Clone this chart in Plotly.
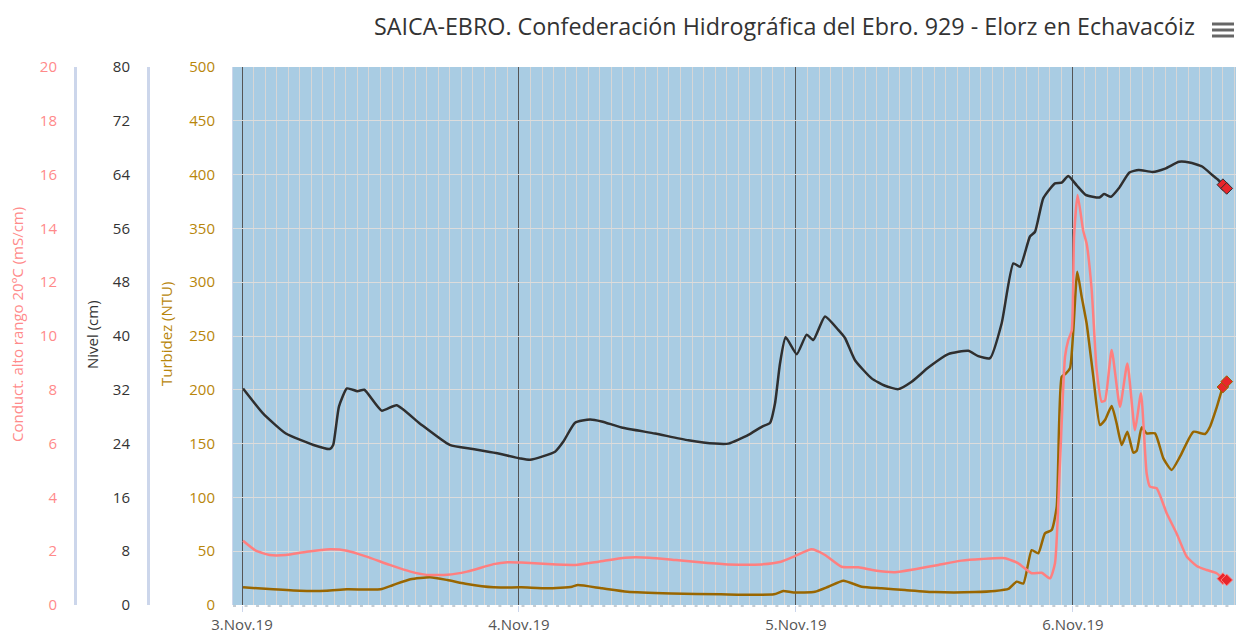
import pandas as pd
import plotly.graph_objects as go

BASE = pd.Timestamp("2019-11-03 00:00")

# ---- Nivel (cm) ----
nivel_h = [0.09, 1.82, 3.8, 6.2, 7.6, 7.9, 8.4, 9.1, 10.0, 10.6, 12.1, 13.4, 15.4, 18.0, 20.0, 22.0,
           24.09, 24.96, 27.13, 27.85, 28.86, 30.16, 31.17, 32.9, 35.79, 38.68, 40.99, 42.15, 43.88,
           45.03, 45.76, 46.19, 46.62, 47.11, 48.07, 48.93, 49.51, 50.52, 51.67, 52.25, 53.12, 54.56,
           55.72, 56.87, 58.03, 59.47, 61.2, 62.94, 63.8, 64.82, 65.83, 66.84, 67.42, 68.28, 68.72,
           69.44, 70.45, 71.03, 71.6, 72.33, 73.1, 74.3, 74.7, 75.3, 76.0, 76.9, 77.7, 78.9, 80.0,
           81.2, 82.1, 83.2, 84.1, 84.6, 85.0, 85.33]
nivel_v = [32.2, 28.5, 25.5, 23.8, 23.2, 23.8, 29.5, 32.2, 31.8, 32.0, 28.9, 29.7, 27.0, 23.8, 23.2, 22.6,
           21.8, 21.6, 22.8, 24.3, 27.1, 27.6, 27.3, 26.4, 25.5, 24.5, 24.0, 24.0, 25.3,
           26.5, 27.1, 30.0, 35.9, 39.8, 37.3, 40.2, 39.4, 42.9, 40.9, 39.7, 36.4, 33.7,
           32.6, 32.1, 33.2, 35.3, 37.3, 37.8, 37.0, 36.7, 41.9, 50.8, 50.3, 54.8, 55.5,
           60.5, 62.7, 62.8, 63.8, 62.4, 61.0, 60.6, 61.1, 60.7, 62.0, 64.3, 64.7, 64.4, 64.9,
           65.9, 65.8, 65.2, 63.9, 63.2, 62.5, 61.95]

# ---- Conductividad alto rango 20ºC (mS/cm) ----
cond_h = [0.09, 1.2, 2.4, 3.8, 5.6, 7.6, 9.1, 10.8, 12.8, 14.6, 16.0, 17.8, 19.5, 21.8, 23.0, 24.2,
          26.5, 28.9, 30.9, 33.2, 35.3, 37.6, 39.9, 42.1, 45.0, 46.7, 47.92, 49.36, 50.52, 51.96,
          53.41, 54.85, 56.59, 58.32, 60.34, 62.36, 64.1, 66.12, 67.27, 68.43, 69.3, 70.02, 70.45,
          70.88, 71.32, 71.6, 71.9, 72.1, 72.41, 72.9, 73.19, 73.63, 74.06, 74.5, 74.78, 75.36,
          76.08, 76.72, 77.38, 77.9, 78.39, 78.68, 79.26, 80.13, 80.99, 81.86, 82.73, 83.59,
          84.46, 85.0, 85.33]
cond_v = [2.39, 2.02, 1.86, 1.86, 1.98, 2.07, 2.02, 1.80, 1.49, 1.24, 1.12, 1.12, 1.24, 1.52, 1.59, 1.58,
          1.52, 1.49, 1.61, 1.76, 1.76, 1.67, 1.58, 1.51, 1.51, 1.61, 1.82, 2.07, 1.86, 1.42,
          1.40, 1.28, 1.22, 1.33, 1.49, 1.65, 1.71, 1.74, 1.55, 1.18, 1.20, 0.99, 1.55,
          5.27, 9.23, 9.85, 10.2, 13.69, 15.24, 13.9, 13.44, 11.71, 8.74, 7.56, 7.6, 9.48,
          7.37, 8.98, 6.50, 7.87, 4.90, 4.40, 4.34, 3.41, 2.66, 1.80, 1.45, 1.30,
          1.18, 0.98, 0.93]

# ---- Turbidez (NTU) ----
turb_h = [0.09, 2.7, 5.0, 7.3, 9.1, 12.0, 13.1, 14.6, 16.3, 17.8, 19.5, 21.8, 24.2, 26.5, 28.6, 29.1,
          31.2, 33.4, 37.2, 41.5, 46.1, 46.9, 47.8, 49.65, 50.81, 52.11, 53.7, 55.43, 57.45, 60.05,
          63.52, 65.25, 66.41, 67.13, 67.71, 68.43, 69.0, 69.58, 70.16, 70.6, 71.03, 71.38, 71.75,
          72.04, 72.38, 72.76, 73.19, 73.77, 74.35, 74.78, 75.36, 75.79, 76.23, 76.72, 77.24,
          77.53, 77.96, 78.39, 79.12, 79.84, 80.56, 81.28, 82.44, 83.45, 83.88, 84.5, 85.0, 85.33]
turb_v = [16.4, 14.6, 13.3, 13.3, 14.6, 14.6, 18.6, 23.9, 25.7, 23.2, 19.5, 16.4, 16.4, 15.5, 17.0, 18.6,
          15.5, 12.4, 10.8, 9.9, 9.9, 13.0, 11.6, 12.4, 17.0, 22.6, 17.0, 15.5, 13.9, 12.0,
          12.0, 13.0, 14.9, 21.7, 20.0, 51.0, 48.0, 66.6, 69.7, 91.4, 212.0, 215.0, 220.0,
          255.6, 309.8, 286.6, 261.8, 212.2, 167.3, 171.9, 184.9, 168.8, 148.7, 161.0, 141.6,
          143.3, 165.1, 159.5, 159.5, 136.3, 125.5, 137.8, 161.0, 158.9, 165.7, 185.0, 202.6, 207.6]

x_ticks_days = ["2019-11-03", "2019-11-04", "2019-11-05", "2019-11-06"]

TITLE = "SAICA-EBRO. Confederación Hidrográfica del Ebro. 929 - Elorz en Echavacóiz"
T_TURB = "Turbidez (NTU)"
T_NIVEL = "Nivel (cm)"
T_COND = "Conduct. alto rango 20ºC (mS/cm)"

def tx(hours):
    return [BASE + pd.Timedelta(hours=h) for h in hours]

C_BLACK = "#2f2f2f"
C_PINK = "#ff7f7f"
C_BROWN = "#996600"
C_PINK_LBL = "#ff8a8a"
C_BROWN_LBL = "#b8860b"
FONT = "Open Sans"

W, H = 1238, 633
PL, PR, PT, PB = 233, 1236, 67, 605
PX_PER_H = 11.54
X0 = 242  # pixel of 3.Nov 00:00 in the reference

fig = go.Figure()

series = [
    (turb_h, turb_v, C_BROWN, "y", "Turbidez"),
    (cond_h, cond_v, C_PINK, "y3", "Conductividad"),
    (nivel_h, nivel_v, C_BLACK, "y2", "Nivel"),
]
for hs, vs, col, ax, name in series:
    fig.add_trace(go.Scatter(x=tx(hs), y=vs, mode="lines", yaxis=ax, name=name,
                             line=dict(color=col, width=2.5, shape="spline", smoothing=0.5),
                             showlegend=False))
for hs, vs, col, ax, name in series:
    fig.add_trace(go.Scatter(x=tx(hs[-2:]), y=vs[-2:], mode="markers", yaxis=ax, name=name,
                             marker=dict(symbol="diamond", size=9, color="#e8262b",
                                         line=dict(color=col, width=1)),
                             cliponaxis=False, showlegend=False))

ydom = [(H - PB) / H, (H - PT) / H]
r0 = (BASE + pd.Timedelta(hours=(PL - X0) / PX_PER_H)).strftime("%Y-%m-%d %H:%M:%S")
r1 = (BASE + pd.Timedelta(hours=(PR - X0) / PX_PER_H)).strftime("%Y-%m-%d %H:%M:%S")

fig.update_layout(
    width=W, height=H,
    margin=dict(l=0, r=0, t=0, b=0, autoexpand=False),
    paper_bgcolor="white",
    plot_bgcolor="#a9cce3",
    font=dict(family=FONT, color="#333"),
    xaxis=dict(domain=[PL / W, PR / W], type="date", range=[r0, r1], automargin=False,
               tickvals=x_ticks_days, tickformat="%-d.%b.%y",
               tickfont=dict(size=15, color="#555"),
               ticks="outside", ticklen=6, tickcolor="#ccd6eb", tickwidth=1,
               showgrid=True, gridcolor="#555555", gridwidth=1,
               minor=dict(dtick=3600000, showgrid=True, gridcolor="#d6d6d6", gridwidth=1.3,
                          ticks=""),
               showline=False, zeroline=False),
    yaxis=dict(domain=ydom, range=[0, 500], dtick=50, showgrid=True, gridcolor="#dcdcdc",
               automargin=False,
               gridwidth=1.3, zeroline=False, showline=True, linecolor="#ccd6eb", linewidth=1,
               tickfont=dict(size=15, color=C_BROWN_LBL), ticklabelstandoff=14),
    yaxis2=dict(overlaying="y", anchor="free", position=148 / W, side="left", automargin=False,
                range=[0, 80], dtick=8, showgrid=False, zeroline=False,
                showline=True, linecolor="#ccd6eb", linewidth=3,
                tickfont=dict(size=15, color="#333"), ticklabelstandoff=14),
    yaxis3=dict(overlaying="y", anchor="free", position=75 / W, side="left", automargin=False,
                range=[0, 20], dtick=2, showgrid=False, zeroline=False,
                showline=True, linecolor="#ccd6eb", linewidth=3,
                tickfont=dict(size=15, color=C_PINK_LBL), ticklabelstandoff=14),
)

mid_y = 1 - ((PT + PB) / 2) / H
fig.add_annotation(text=TITLE, xref="paper", yref="paper", x=1197 / W, y=1 - 26 / H,
                   xanchor="right", yanchor="middle", showarrow=False,
                   font=dict(size=23.3, color="#333", family=FONT))
fig.add_annotation(text=T_TURB, xref="paper", yref="paper", x=166 / W, y=1 - 334 / H,
                   textangle=-90, showarrow=False, xanchor="center", yanchor="middle",
                   font=dict(size=15, color=C_BROWN_LBL, family=FONT))
fig.add_annotation(text=T_NIVEL, xref="paper", yref="paper", x=92 / W, y=1 - 335 / H,
                   textangle=-90, showarrow=False, xanchor="center", yanchor="middle",
                   font=dict(size=15, color="#333", family=FONT))
fig.add_annotation(text=T_COND, xref="paper", yref="paper", x=17 / W, y=1 - 325 / H,
                   textangle=-90, showarrow=False, xanchor="center", yanchor="middle",
                   font=dict(size=15, color=C_PINK_LBL, family=FONT))

# dashed bottom axis line
fig.add_shape(type="line", xref="paper", yref="paper", x0=PL / W, x1=PR / W,
              y0=(H - PB - 1) / H, y1=(H - PB - 1) / H,
              line=dict(color="#8a9aa8", width=1, dash="3px,8.54px"))
# menu icon
for yy in (24, 30, 36):
    fig.add_shape(type="line", xref="paper", yref="paper", x0=1212 / W, x1=1234 / W,
                  y0=1 - yy / H, y1=1 - yy / H, line=dict(color="#666", width=3))

fig.write_html("out.html", config={"displayModeBar": False},
               post_script="document.body.style.margin='0px';")
